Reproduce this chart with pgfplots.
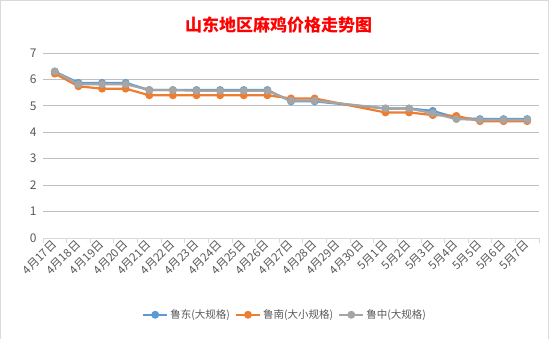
\documentclass[border=0pt]{standalone}
\usepackage{fontspec}
\setmainfont{Noto Sans CJK SC}
\usepackage{pgfplots}
\pgfplotsset{compat=1.18}
\definecolor{sblue}{HTML}{5B9BD5}
\definecolor{sorange}{HTML}{ED7D31}
\definecolor{sgray}{HTML}{A5A5A5}
\definecolor{txt}{HTML}{595959}
\definecolor{grid}{HTML}{D9D9D9}
\begin{document}
\begin{tikzpicture}[x=1pt,y=1pt]
\path[use as bounding box] (-43,-101) rectangle (513,238);
\draw[grid] (-43,-101) rectangle (505,238);
\begin{axis}[
  at={(0,0)}, anchor=south west,
  scale only axis, width=496pt, height=185pt,
  xmin=-0.5, xmax=20.5, ymin=0, ymax=7,
  ytick={0,1,...,7},
  xtick={0,...,20},
  xticklabels={4月17日,4月18日,4月19日,4月20日,4月21日,4月22日,4月23日,4月24日,4月25日,4月26日,4月27日,4月28日,4月29日,4月30日,5月1日,5月2日,5月3日,5月4日,5月5日,5月6日,5月7日},
  minor xtick={-0.5,0.5,...,20.5},
  xmajorgrids=false, xminorgrids=false,
  ymajorgrids=true, grid style={grid, line width=0.8pt},
  major x tick style={draw=none},
  minor x tick style={draw=grid, line width=0.8pt},
  minor tick length=5pt,
  major tick length=3pt,
  tick align=outside,
  x tick label style={rotate=45, anchor=east, font=\fontsize{11.5}{12}\selectfont, text=txt, inner sep=1pt, yshift=-1pt},
  y tick label style={font=\fontsize{12}{12}\selectfont, text=txt},
  /pgf/number format/assume math mode=true,
  axis x line*=bottom, axis y line*=left,
  x axis line style={grid, line width=0.8pt, -},
  y axis line style={draw=none},
  ytick style={draw=none},
  clip=false,
  legend style={at={(0.488,-0.415)}, anchor=center, draw=none, legend columns=3, font=\fontsize{10.5}{11}\selectfont, text=txt, /tikz/every even column/.append style={column sep=3pt}},
  legend cell align=left,
  legend image code/.code={\draw[#1, mark repeat=2, mark phase=2] plot coordinates {(0pt,0pt) (12pt,0pt) (24pt,0pt)};},
  title={\textbf{山东地区麻鸡价格走势图}},
  title style={at={(0.475,1)}, yshift=10pt, font=\fontsize{17}{18}\selectfont, text=red},
  every axis plot/.append style={line width=2.2pt, mark=*, mark size=2.8pt},
]
\addplot[sblue, mark options={fill=sblue, draw=sblue}] coordinates {
(0,6.3)(1,5.87)(2,5.87)(3,5.87)(4,5.6)(5,5.6)(6,5.6)(7,5.6)(8,5.6)(9,5.6)(10,5.17)(11,5.17)
(14,4.9)(15,4.9)(16,4.81)(17,4.55)(18,4.5)(19,4.5)(20,4.5)};
\addlegendentry{鲁东(大规格)}
\addplot[sorange, mark options={fill=sorange, draw=sorange}] coordinates {
(0,6.22)(1,5.74)(2,5.65)(3,5.65)(4,5.4)(5,5.4)(6,5.4)(7,5.4)(8,5.4)(9,5.4)(10,5.28)(11,5.28)
(14,4.75)(15,4.75)(16,4.65)(17,4.62)(18,4.42)(19,4.42)(20,4.42)};
\addlegendentry{鲁南(大小规格)}
\addplot[sgray, mark options={fill=sgray, draw=sgray}] coordinates {
(0,6.3)(1,5.82)(2,5.82)(3,5.82)(4,5.6)(5,5.6)(6,5.57)(7,5.57)(8,5.57)(9,5.57)(10,5.2)(11,5.2)
(14,4.9)(15,4.9)(16,4.72)(17,4.5)(18,4.47)(19,4.47)(20,4.47)};
\addlegendentry{鲁中(大规格)}
\end{axis}
\end{tikzpicture}
\end{document}
